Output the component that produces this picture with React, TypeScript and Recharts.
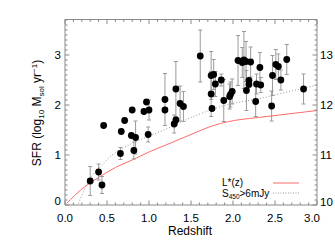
import React from 'react';
import { ComposedChart, Scatter, Line, XAxis, YAxis, ErrorBar } from 'recharts';

// observed sources: redshift, log SFR and the 1-sigma error (0 = no bar drawn)
const obsZ = [0.30, 0.40, 0.44, 0.46, 0.66, 0.67, 0.71, 0.79, 0.80, 0.82, 0.84, 0.94, 0.97, 0.99, 1.00, 1.19, 1.19, 1.30, 1.32, 1.32, 1.37, 1.41, 1.61, 1.74, 1.77, 1.79, 1.74, 1.75, 1.86, 1.89, 1.96, 1.97, 1.99, 2.06, 2.11, 2.13, 2.155, 2.21, 2.19, 2.19, 2.16, 2.32, 2.27, 2.28, 2.33, 2.46, 2.47, 2.51, 2.54, 2.57, 2.64, 2.84];
const obsSfr = [0.48, 0.66, 0.40, 1.59, 1.03, 1.47, 1.69, 1.39, 1.90, 1.09, 1.35, 1.87, 2.06, 1.41, 1.90, 2.11, 1.90, 1.62, 1.70, 2.32, 2.03, 1.97, 2.98, 2.59, 2.61, 2.42, 2.22, 1.93, 2.50, 2.09, 2.17, 2.21, 2.27, 2.89, 2.85, 2.90, 2.87, 2.86, 2.49, 2.41, 2.29, 2.75, 2.07, 2.42, 2.40, 1.98, 2.59, 2.81, 2.77, 2.50, 2.91, 2.32];
const obsErr = [0.29, 0.16, 0.17, 0, 0.12, 0, 0, 0, 0, 0.17, 0.33, 0, 0, 0.15, 0.2, 0.52, 0, 0.18, 0, 0.55, 0.35, 0.3, 0.52, 0.48, 0.3, 0.25, 0.45, 0, 0.12, 0.42, 0.25, 0.25, 0.25, 0.5, 0.3, 0.57, 0.4, 0.3, 0, 0, 0.4, 0.3, 0.3, 0.2, 0.15, 0.3, 0.4, 0.3, 0.25, 0.2, 0.3, 0.3];

// L*(z) track
const lstarZ = [0.02, 0.2, 0.4, 0.6, 0.8, 1.0, 1.2, 1.5, 1.75, 1.95, 2.3, 2.7, 3.0];
const lstarSfr = [0.03, 0.32, 0.55, 0.75, 0.9, 1.06, 1.2, 1.41, 1.58, 1.67, 1.75, 1.83, 1.89];

// S450 > 6 mJy limit
const limZ = [0.16, 0.28, 0.44, 0.56, 0.76, 0.96, 1.15, 1.53, 1.92, 2.32, 2.72, 3.0];
const limSfr = [0.03, 0.47, 0.8, 1.0, 1.2, 1.35, 1.48, 1.77, 2.0, 2.13, 2.29, 2.4];

const xMajor = [0, 0.5, 1, 1.5, 2, 2.5, 3];
const xLabels = ['0.0', '0.5', '1.0', '1.5', '2.0', '2.5', '3.0'];
const yMajor = [0, 1, 2, 3];
const yLabels = ['0', '1', '2', '3'];
const rMajor = [10, 11, 12, 13];
const rLabels = ['10', '11', '12', '13'];

const AXIS = '#8a8a8a';
const FONT = '"Liberation Sans", Arial, Helvetica, sans-serif';
const MAJ = 4.5;
const MIN = 2.5;

const withErr = obsZ.map((z, i) => ({ z, v: obsSfr[i], err: obsErr[i] })).filter(d => d.err > 0);
const noErr = obsZ.map((z, i) => ({ z, v: obsSfr[i] })).filter((_, i) => obsErr[i] === 0);
const lstarData = lstarZ.map((z, i) => ({ z, v: lstarSfr[i] }));
const limData = limZ.map((z, i) => ({ z, v: limSfr[i] }));

const steps = (from: number, n: number) => Array.from({ length: n }, (_, i) => Math.round((from + i / 10) * 10) / 10);
const xTicks = steps(0, 31);
const yTicks = steps(0, 38);
const rTicks = steps(10, 38);

const labelOf = (v: number, majors: number[], labels: string[]) => {
  const i = majors.findIndex(m => Math.abs(m - v) < 1e-6);
  return i < 0 ? null : labels[i];
};

const BottomTick = ({ x, y, payload }: any) => {
  const lab = labelOf(payload.value, xMajor, xLabels);
  const dx = payload.value === 3 ? -5 : 0;
  return (
    <g>
      <line x1={x} y1={y} x2={x} y2={y - (lab ? MAJ : MIN)} stroke={AXIS} />
      {lab && <text x={x + dx} y={y + 17} textAnchor="middle" fontSize={11.5} fontFamily={FONT} fill="#000">{lab}</text>}
    </g>
  );
};

const TopTick = ({ x, y, payload }: any) => {
  const lab = labelOf(payload.value, xMajor, xLabels);
  return <line x1={x} y1={y} x2={x} y2={y + (lab ? MAJ : MIN)} stroke={AXIS} />;
};

const LeftTick = ({ x, y, payload }: any) => {
  const lab = labelOf(payload.value, yMajor, yLabels);
  const dy = payload.value === 0 ? -4 : 0;
  return (
    <g>
      <line x1={x} y1={y} x2={x + (lab ? MAJ : MIN)} y2={y} stroke={AXIS} />
      {lab && <text x={x - 4} y={y + 4 + dy} textAnchor="end" fontSize={11.5} fontFamily={FONT} fill="#000">{lab}</text>}
    </g>
  );
};

const RightTick = ({ x, y, payload }: any) => {
  const lab = labelOf(payload.value, rMajor, rLabels);
  const dy = payload.value === 10 ? -3 : 0;
  return (
    <g>
      <line x1={x} y1={y} x2={x - (lab ? MAJ : MIN)} y2={y} stroke={AXIS} />
      {lab && <text x={x + 3} y={y + 4 + dy} textAnchor="start" fontSize={11.5} fontFamily={FONT} fill="#000">{lab}</text>}
    </g>
  );
};

const Dot = (props: any) => <circle cx={props.cx} cy={props.cy} r={3.4} fill="#000" />;

const YTitle = () => (
  <text x={41} y={113} transform="rotate(-90 41 113)" textAnchor="middle" fontSize={12} fontFamily={FONT} fill="#000">
    SFR (log<tspan fontSize={8} dy={3}>10</tspan>
    <tspan dy={-3}> M</tspan>
    <tspan fontSize={8} dy={3}>sol</tspan>
    <tspan dy={-3}> yr</tspan>
    <tspan fontSize={8} dy={-4}>−1</tspan>
    <tspan dy={4}>)</tspan>
  </text>
);

const XTitle = () => (
  <text x={190} y={235} textAnchor="middle" fontSize={12} fontFamily={FONT} fill="#000">Redshift</text>
);

export default function App() {
  return (
    <div style={{ position: 'absolute', left: 0, top: 0, width: 335, height: 247, background: '#fff' }}>
      <ComposedChart width={335} height={247} margin={{ top: 18.5, right: 0, bottom: 0, left: 0 }}>
        <XAxis xAxisId="b" dataKey="z" type="number" domain={[0, 3]} ticks={xTicks} interval={0}
          tick={<BottomTick />} tickLine={false} tickSize={0} tickMargin={0} height={42}
          axisLine={{ stroke: AXIS }} label={<XTitle />} allowDataOverflow />
        <XAxis xAxisId="t" orientation="top" dataKey="z" type="number" domain={[0, 3]} ticks={xTicks} interval={0}
          tick={<TopTick />} tickLine={false} tickSize={0} tickMargin={0} height={1}
          axisLine={{ stroke: AXIS }} allowDataOverflow />
        <YAxis yAxisId="l" dataKey="v" type="number" domain={[0, 3.71]} ticks={yTicks} interval={0}
          tick={<LeftTick />} tickLine={false} tickSize={0} tickMargin={0} width={65}
          axisLine={{ stroke: AXIS }} label={<YTitle />} allowDataOverflow />
        <YAxis yAxisId="r" orientation="right" type="number" domain={[10, 13.71]} ticks={rTicks} interval={0}
          tick={<RightTick />} tickLine={false} tickSize={0} tickMargin={0} width={18}
          axisLine={{ stroke: AXIS }} allowDataOverflow />
        <Line xAxisId="b" yAxisId="l" data={lstarData} dataKey="v" type="monotone" stroke="#ff6a6a" strokeWidth={1}
          dot={false} isAnimationActive={false} />
        <Line xAxisId="b" yAxisId="l" data={limData} dataKey="v" type="monotone" stroke="#999" strokeWidth={1}
          strokeDasharray="1 2" dot={false} isAnimationActive={false} />
        <Scatter xAxisId="b" yAxisId="l" data={withErr} dataKey="v" shape={<Dot />} isAnimationActive={false}>
          <ErrorBar dataKey="err" direction="y" width={2} stroke="#9a9a9a" strokeWidth={1} isAnimationActive={false} />
        </Scatter>
        <Scatter xAxisId="b" yAxisId="l" data={noErr} dataKey="v" shape={<Dot />} isAnimationActive={false} />
      </ComposedChart>
      <svg width={335} height={247} style={{ position: 'absolute', left: 0, top: 0, pointerEvents: 'none' }}>
        <text x={222} y={186} fontSize={10} fontFamily={FONT} fill="#000">L*(z)</text>
        <line x1={273} y1={183} x2={299} y2={183} stroke="#ff6a6a" />
        <text x={222} y={196.5} fontSize={10} fontFamily={FONT} fill="#000">
          S<tspan fontSize={6.5} dy={2}>450</tspan><tspan dy={-2}>&gt;6mJy</tspan>
        </text>
        <line x1={273} y1={193} x2={300} y2={193} stroke="#999" strokeDasharray="1 1.5" />
      </svg>
    </div>
  );
}
